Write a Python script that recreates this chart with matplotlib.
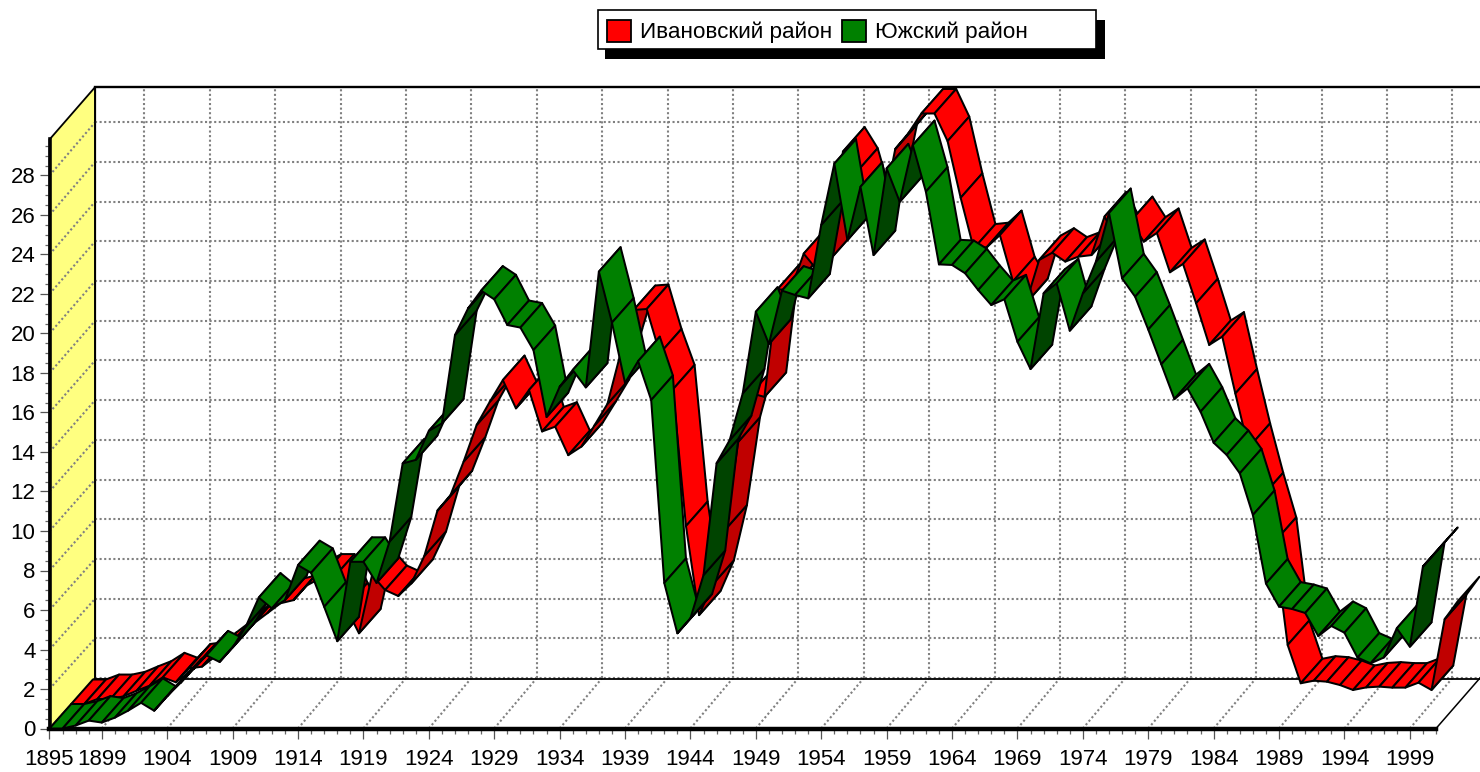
import matplotlib
matplotlib.use("Agg")
import matplotlib.pyplot as plt
from matplotlib.patches import Polygon, Patch, Rectangle
import numpy as np

plt.rcParams['font.family'] = ['Liberation Sans', 'DejaVu Sans']

W, H = 1480, 772

first_year = 1895
years = list(range(1895, 2002))
year_ticks = [1895, 1899, 1904, 1909, 1914, 1919, 1924, 1929, 1934, 1939, 1944, 1949,
              1954, 1959, 1964, 1969, 1974, 1979, 1984, 1989, 1994, 1999]
value_ticks = list(range(0, 30, 2))
series_names = ["Ивановский район", "Южский район"]

ivanovsky = [0, 0, .25, .25, .39, .67, .93, 1.35, 1.1, 1.8,
             1.89, 2.4, 2.9, 3.5, 4.1, 4.6, 5.1, 5.26, 6.0, 6.35,
             6.35, 4.9, 3.58, 6.53, 5.77, 5.47, 6.1, 7.5, 9.79, 10.58,
             12.27, 14.13, 15.3, 16.4, 14.97, 15.9, 13.8, 14.04, 12.6, 13.03,
             14.1, 15.2, 17.76, 19.95, 20.0, 17.75, 15.93, 9.01, 4.5, 6.03,
             8.83, 13.28, 15.73, 15.55, 21.0, 20.95, 22.8, 22.0, 22.5, 27.97,
             26.9, 24.6, 24.8, 28.1, 28.9, 29.9, 29.9, 28.5, 25.63, 23.06,
             23.13, 23.74, 21.4, 20.3, 22.48, 22.85, 22.4, 22.65, 22.73, 24.68,
             23.43, 24.45, 23.41, 23.85, 21.86, 22.28, 20.29, 18.18, 18.6, 15.72,
             12.97, 10.47, 8.21, 2.99, 1.05, 1.18, 1.13, .96, .71, .84,
             .88, .83, .83, 1.08, .71, 4.29, 5.2]

yuzhsky = [0, 0, .15, .4, .3, .55, .9, 1.3, .9, 1.64,
           2.3, 3.0, 3.7, 3.37, 4.1, 5.15, 6.63, 6.08, 6.5, 8.27,
           7.88, 6.16, 4.42, 8.44, 8.44, 7.37, 9.47, 13.42, 13.6, 15.07,
           15.45, 19.92, 21.27, 22.17, 21.73, 20.43, 20.3, 19.16, 15.77, 17.3,
           18.15, 17.27, 23.13, 20.55, 17.5, 18.6, 16.63, 7.37, 4.82, 5.58,
           7.77, 13.43, 14.6, 16.97, 21.1, 19.47, 22.17, 21.95, 21.78, 25.5,
           28.6, 24.73, 27.43, 23.97, 28.36, 26.67, 29.54, 27.18, 23.5, 23.47,
           23.05, 22.2, 21.44, 21.73, 19.58, 18.2, 22.03, 22.54, 20.14, 22.03,
           23.64, 26.1, 22.79, 21.86, 20.2, 18.44, 16.68, 17.22, 16.04, 14.47,
           13.85, 12.92, 10.81, 7.34, 6.17, 6.05, 5.85, 4.68, 5.19, 4.85,
           3.59, 3.3, 3.59, 5.07, 4.14, 8.2, 8.94]

# plot box of the front plane, in pixels
left, right, bottom, top = 49.5, 1436.0, 728.5, 139.5
xmin, xmax = 1895, 2001
ymax = (bottom - top) / 19.75
px_x = (right - left) / (xmax - xmin)
px_y = (bottom - top) / ymax

fig = plt.figure(figsize=(W / 100, H / 100), dpi=100, facecolor='white')
ax = fig.add_axes([left / W, 1 - bottom / H, (right - left) / W, (bottom - top) / H])
ax.set_xlim(xmin, xmax)
ax.set_ylim(0, ymax)
ax.patch.set_visible(False)


def sx(px):
    return px / px_x


def sy(px):
    return px / px_y


GRID = dict(color='#808080', lw=1.5, ls=(0, (1, 1.2)), clip_on=False, dash_capstyle='butt')
wall_dx, grid_dx, depth_dy = sx(45.7), sx(42.6), sy(50.5)
back_right = xmax + sx(44)
back_top = ymax + sy(52.5)
back_scale = 19.85 / 19.75

# left wall
ax.add_patch(Polygon([(xmin, 0), (xmin, ymax), (xmin + wall_dx, back_top), (xmin + wall_dx, depth_dy)],
                     closed=True, fc='#FFFF80', ec='black', lw=1.3, clip_on=False, zorder=1))

# back wall and floor grid
for v in value_ticks:
    yb = v * back_scale + depth_dy
    ax.plot([xmin, xmin + wall_dx], [v, yb], zorder=2, **GRID)
    ax.plot([xmin + wall_dx, back_right], [yb, yb], zorder=2, **GRID)
for y in year_ticks[1:]:
    ax.plot([y + grid_dx, y + grid_dx], [depth_dy, back_top], zorder=2, **GRID)
    ax.plot([y, y + grid_dx], [0, depth_dy], zorder=2, **GRID)

ax.plot([xmin + wall_dx, back_right], [back_top] * 2, color='black', lw=1.7, clip_on=False, zorder=3)
ax.plot([xmin + wall_dx, back_right], [depth_dy - sy(1)] * 2, color='black', lw=1.3, clip_on=False, zorder=3)
ax.plot([xmin + wall_dx, xmin + wall_dx], [depth_dy, back_top], color='black', lw=1.3, clip_on=False, zorder=3)
ax.plot([xmax, back_right], [0, depth_dy], color='black', lw=1.1, clip_on=False, zorder=3)

# ribbons
rib_dx, rib_dy = sx(21.7), sy(24.5)
threshold = (24.5 / 21.7) * (px_x / px_y)


def ribbon(vals, shift, bright, dark, z):
    x0 = np.array(years, float) + shift * rib_dx
    y0 = np.array(vals, float) + shift * rib_dy
    for i in range(len(vals) - 1):
        rising = (vals[i + 1] - vals[i]) > threshold
        pts = [(x0[i], y0[i]), (x0[i + 1], y0[i + 1]),
               (x0[i + 1] + rib_dx, y0[i + 1] + rib_dy), (x0[i] + rib_dx, y0[i] + rib_dy)]
        ax.add_patch(Polygon(pts, closed=True, fc=dark if rising else bright, ec='black',
                             lw=1.45, joinstyle='round', clip_on=False, zorder=z + i * 1e-3))


ribbon(ivanovsky, 1, '#FF0000', '#C00000', 5)
ribbon(yuzhsky, 0, '#008000', '#004400', 6)

# axes
for s in ('top', 'right'):
    ax.spines[s].set_visible(False)
ax.spines['left'].set_linewidth(2.6)
ax.spines['bottom'].set_linewidth(3.2)
ax.spines['left'].set_zorder(4)
ax.spines['bottom'].set_zorder(4)
ax.set_xticks(year_ticks)
ax.set_xticklabels([str(y) for y in year_ticks])
ax.set_xticks(years, minor=True)
ax.set_yticks(value_ticks)
ax.set_yticklabels([str(v) for v in value_ticks])
ax.set_yticks(np.arange(0, ymax, 0.5), minor=True)
ax.tick_params(axis='both', which='major', length=7, width=0.9, color='#555555',
               labelsize=16, labelcolor='black')
ax.tick_params(axis='both', which='minor', length=3.5, width=0.9, color='#666666')
ax.tick_params(axis='x', which='major', pad=8)
ax.tick_params(axis='y', which='major', pad=3)

# legend box with its hard shadow, then a frameless legend on it
tf = fig.transFigure
ax.add_patch(Rectangle((605 / W, 1 - 58.5 / H), 499.5 / W, 39 / H, transform=tf, fc='black', ec='none',
                       clip_on=False, zorder=9))
ax.add_patch(Rectangle((597.5 / W, 1 - 49 / H), 498.5 / W, 39 / H, transform=tf, fc='white', ec='black',
                       lw=1.2, clip_on=False, zorder=9.5))
handles = [Patch(fc='#FF0000', ec='black', lw=1.3), Patch(fc='#008000', ec='black', lw=1.3)]
leg = ax.legend(handles, series_names, ncols=2, loc='upper left',
                bbox_to_anchor=(607 / W, 1 - 19.5 / H), bbox_transform=tf,
                fontsize=16.2, frameon=False, borderaxespad=0, borderpad=0,
                handlelength=1.07, handleheight=1.15, handletextpad=0.4,
                columnspacing=0.45, labelspacing=0)
leg.set_zorder(10)

fig.savefig('out.png', dpi=100, facecolor='white')
